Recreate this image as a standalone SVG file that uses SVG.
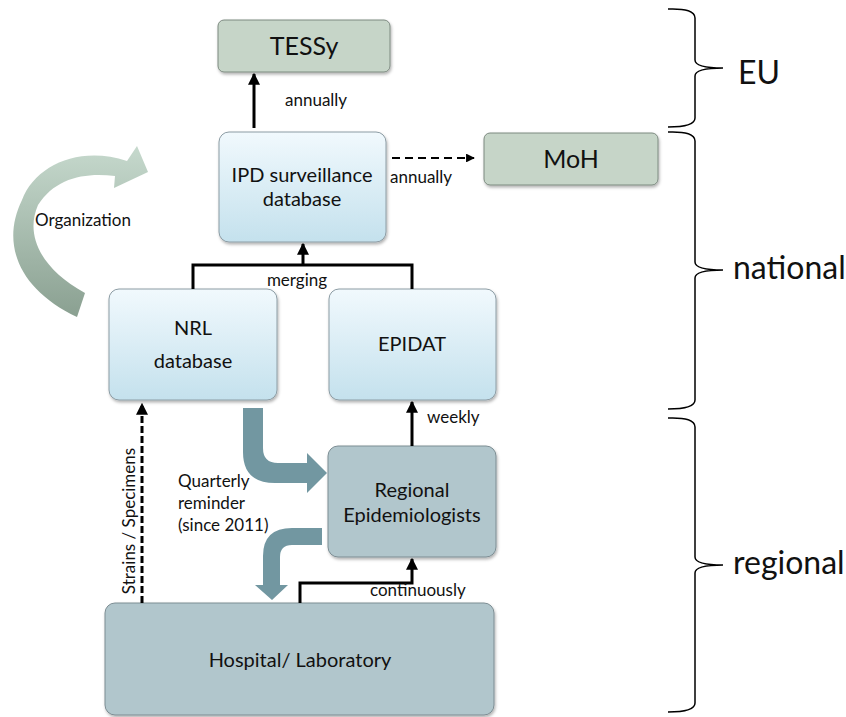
<svg xmlns="http://www.w3.org/2000/svg" width="846" height="717" viewBox="0 0 846 717">
<defs>
<linearGradient id="blue" x1="0" y1="0" x2="0" y2="1">
<stop offset="0" stop-color="#f1f9fd"/>
<stop offset="1" stop-color="#c4e1ed"/>
</linearGradient>
<linearGradient id="org" x1="0" y1="0" x2="0" y2="1">
<stop offset="0" stop-color="#c6d9cd"/>
<stop offset="1" stop-color="#8aa091"/>
</linearGradient>
<filter id="sh" x="-10%" y="-10%" width="120%" height="130%">
<feDropShadow dx="1" dy="2" stdDeviation="1.5" flood-color="#000" flood-opacity="0.3"/>
</filter>
<marker id="ah" viewBox="0 0 10 10" refX="9" refY="5" markerWidth="4" markerHeight="4" orient="auto" markerUnits="strokeWidth">
<path d="M0,0 L10,5 L0,10 Z" fill="#000"/>
</marker>
</defs>
<style>
text{font-family:Lato,"Open Sans","Liberation Sans",sans-serif;fill:#111;}
.green{fill:#c6d5c8;stroke:#7d8a80;stroke-width:1;}
.bluebox{fill:url(#blue);stroke:#8c9ca4;stroke-width:1;}
.grey{fill:#b1c6cc;stroke:#7c8d93;stroke-width:1;}
.ln{fill:none;stroke:#000;stroke-width:3;}
.dash{fill:none;stroke:#000;}
.brace{fill:none;stroke:#000;stroke-width:1.5;}
.lbl{font-size:17px;}
.box{font-size:20px;text-anchor:middle;}
.big{font-size:25px;text-anchor:middle;}
.lvl{font-size:32px;}
.thick{fill:#7297a1;}
</style>

<g id="organization">
<path d="M77,317 C20,290 0,245 22,200 C35,165 80,145 127,161 L137,146 L148,172 L114,188 L115,176 C85,172 55,178 38,205 C25,235 40,268 85,293 Z" fill="url(#org)"/>
<text x="35" y="226" class="lbl">Organization</text>
</g>

<g id="tessy">
<rect x="218" y="20" width="172" height="52" rx="6" class="green" filter="url(#sh)"/>
<text x="304" y="55" class="big">TESSy</text>
</g>

<g id="moh">
<rect x="484" y="133" width="174" height="52" rx="6" class="green" filter="url(#sh)"/>
<text x="571" y="168" class="big">MoH</text>
</g>

<g id="ipd">
<rect x="219" y="132" width="167" height="110" rx="10" class="bluebox" filter="url(#sh)"/>
<text x="302" y="182" class="box">IPD surveillance</text>
<text x="302" y="206" class="box">database</text>
</g>

<g id="nrl">
<rect x="109" y="289" width="168" height="111" rx="10" class="bluebox" filter="url(#sh)"/>
<text x="193" y="335" class="box">NRL</text>
<text x="193" y="368" class="box">database</text>
</g>

<g id="epidat">
<rect x="329" y="289" width="167" height="111" rx="10" class="bluebox" filter="url(#sh)"/>
<text x="412" y="351" class="box">EPIDAT</text>
</g>

<g id="regional-epi">
<rect x="328" y="446" width="168" height="111" rx="10" class="grey" filter="url(#sh)"/>
<text x="412" y="497" class="box">Regional</text>
<text x="412" y="522" class="box">Epidemiologists</text>
</g>

<g id="hospital">
<rect x="105" y="603" width="389" height="112" rx="10" class="grey" filter="url(#sh)"/>
<text x="300" y="667" class="box">Hospital/ Laboratory</text>
</g>

<g id="connectors">
<line x1="254" y1="128" x2="254" y2="74" class="ln" marker-end="url(#ah)"/>
<text x="285" y="106" class="lbl">annually</text>
<line x1="392" y1="158" x2="474" y2="158" class="dash" stroke-width="2.2" stroke-dasharray="8,5" marker-end="url(#ah)"/>
<text x="390" y="183" class="lbl">annually</text>
<polyline points="193,289 193,265 412,265 412,289" class="ln"/>
<line x1="303" y1="265" x2="303" y2="244" class="ln" marker-end="url(#ah)"/>
<text x="297" y="286" class="lbl" text-anchor="middle">merging</text>
<line x1="412" y1="446" x2="412" y2="402" class="ln" marker-end="url(#ah)"/>
<text x="427" y="423" class="lbl">weekly</text>
<polyline points="300,603 300,583 412,583 412,559" class="ln" marker-end="url(#ah)"/>
<text x="370" y="596" class="lbl">continuously</text>
<line x1="142" y1="603" x2="142" y2="404" class="dash" stroke-width="3" stroke-dasharray="7,3" marker-end="url(#ah)"/>
<text transform="translate(135,521) rotate(-90)" class="lbl" text-anchor="middle">Strains / Specimens</text>
<path class="thick" d="M243,408 L263,408 L263,448 Q263,463 278,463 L307,463 L307,453 L327,473 L307,493 L307,483 L275,483 Q243,483 243,452 Z"/>
<path class="thick" d="M322,528 L322,545 L292,545 Q280,545 280,557 L280,585 L288,585 L272,600 L255,585 L263,585 L263,556 Q263,528 292,528 Z"/>
<text x="178" y="487" class="lbl">Quarterly</text>
<text x="178" y="509" class="lbl">reminder</text>
<text x="178" y="531" class="lbl">(since 2011)</text>
</g>

<g id="levels">
<path class="brace" d="M668,9 Q695,8 695,18 L695,60 Q695,68 723,68 Q695,68 695,76 L695,118 Q695,127 668,127"/>
<text x="738" y="84" class="lvl">EU</text>
<path class="brace" d="M668,132 Q695,131 695,141 L695,262 Q695,270 723,270 Q695,270 695,278 L695,400 Q695,409 668,409"/>
<text x="733" y="279" class="lvl">national</text>
<path class="brace" d="M668,418 Q695,417 695,427 L695,557 Q695,565 723,565 Q695,565 695,573 L695,703 Q695,712 668,712"/>
<text x="733" y="574" class="lvl">regional</text>
</g>
</svg>
